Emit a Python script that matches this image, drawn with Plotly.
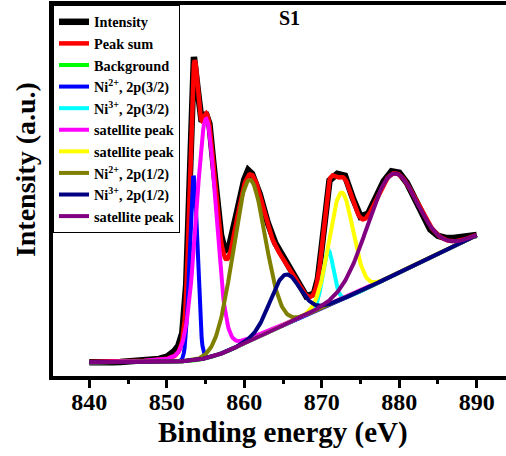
import numpy as np
import plotly.graph_objects as go

energy = [840, 841, 842, 843, 844, 845, 846, 847, 848, 849, 850, 850.5, 851, 851.5,
          852, 852.5, 853, 853.5, 854, 854.5, 855, 855.5, 856, 856.5, 857, 857.5,
          858, 859, 860, 860.5, 861, 862, 863, 864, 865, 866, 867, 868, 869, 869.5,
          870, 870.5, 871, 872, 873, 874, 875, 876, 877, 878, 879, 880, 881, 882,
          883, 884, 885, 886, 887, 888, 889, 890]
intensity = [3.7, 3.6, 3.8, 3.7, 3.8, 3.9, 4.0, 4.1, 4.3, 4.6, 5.2, 5.8, 6.8, 8.2,
             11.6, 24.5, 58.0, 86.0, 77.0, 68.5, 71.0, 68.0, 57.5, 46.0, 38.0, 33.8,
             34.5, 43.6, 53.0, 55.5, 54.5, 49.0, 41.5, 35.8, 32.0, 28.6, 24.8, 21.5, 22.2, 26.2,
             34.8, 45.7, 52.7, 54.5, 54.0, 48.0, 43.0, 43.8, 48.0, 52.5, 55.2, 54.8, 52.0, 48.0,
             43.5, 39.5, 37.8, 37.2, 37.2, 37.4, 37.7, 38.0]

# ---- background (read at control energies) ----
bg_energy = [840, 845, 850, 852, 854, 856, 858, 860, 862, 865, 870, 875, 880, 885, 890]
bg_value = [3.71, 3.71, 3.84, 3.98, 4.34, 5.29, 6.81, 8.86, 10.78, 13.63, 18.41, 22.86, 27.96, 33.05, 37.94]

# ---- fitted components: name, colour, centre (eV), height, FWHM (eV), Lorentzian fraction ----
comp_names = ["Ni<sup>2+</sup>, 2p(3/2)", "Ni<sup>3+</sup>, 2p(3/2)", "satellite peak",
              "satellite peak", "Ni<sup>2+</sup>, 2p(1/2)", "Ni<sup>3+</sup>, 2p(1/2)", "satellite peak"]
comp_colors = ["#0000FF", "#00FFFF", "#FF00FF", "#FFFF00", "#808000", "#000080", "#800080"]
comp_center = [853.45, 870.81, 855.06, 872.49, 860.61, 865.23, 879.07]
comp_height = [49.5, 14.75, 64.5, 28.8, 43.4, 13.4, 27.4]
comp_fwhm = [1.18, 1.65, 3.0, 3.6, 4.87, 4.47, 7.54]
comp_lorentz = [0.0, 0.0, 0.15, 0.0, 0.0, 0.0, 0.0]

x_ticks = [840, 850, 860, 870, 880, 890]

# ---- build fitted curves ----
grid = np.round(np.arange(840, 890.001, 0.1), 2)
bg_grid = np.interp(grid, bg_energy, bg_value)
comps = []
for c, h, w, eta in zip(comp_center, comp_height, comp_fwhm, comp_lorentz):
    sig = w / 2.3548
    gauss = np.exp(-(grid - c) ** 2 / (2 * sig ** 2))
    lor = 1.0 / (1.0 + ((grid - c) / (w / 2)) ** 2)
    comps.append(h * (eta * lor + (1 - eta) * gauss))
peak_sum = bg_grid + np.sum(comps, axis=0)

serif = "Liberation Serif, Times New Roman, serif"
fig = go.Figure()
fig.add_trace(go.Scatter(x=energy, y=intensity, mode="lines", name="Intensity",
                         line=dict(color="black", width=6.5)))
fig.add_trace(go.Scatter(x=grid, y=peak_sum, mode="lines", name="Peak sum",
                         line=dict(color="#FF0000", width=4.5)))
fig.add_trace(go.Scatter(x=bg_energy, y=bg_value, mode="lines", name="Background",
                         line=dict(color="#00FF00", width=4)))
for name, col, comp in zip(comp_names, comp_colors, comps):
    fig.add_trace(go.Scatter(x=grid, y=bg_grid + comp, mode="lines", name=name,
                             line=dict(color=col, width=4)))

fig.update_layout(
    width=506, height=456,
    margin=dict(l=53, r=0, t=5, b=80),
    paper_bgcolor="white", plot_bgcolor="white",
    showlegend=True,
    legend=dict(x=0, y=1, xanchor="left", yanchor="top", bgcolor="white",
                bordercolor="black", borderwidth=1, tracegroupgap=0,
                font=dict(family=serif, size=14.3, color="black", weight="bold")),
    xaxis=dict(range=[835.31, 893.78], tickmode="linear", tick0=840, dtick=10,
               showline=True, linecolor="black", linewidth=3.5, mirror=True,
               ticks="outside", ticklen=8, tickwidth=3, tickcolor="black",
               ticklabelstandoff=-7,
               minor=dict(dtick=5, tick0=840, ticks="outside", ticklen=4, tickwidth=3, tickcolor="black"),
               showgrid=False, zeroline=False,
               tickfont=dict(family=serif, size=24, color="black", weight="bold")),
    yaxis=dict(range=[0, 100], showline=True, linecolor="black", linewidth=4,
               showticklabels=False, ticks="", showgrid=False, zeroline=False),
    annotations=[
        dict(text="S1", xref="paper", yref="paper", x=0.523, y=0.965, showarrow=False,
             xanchor="center", yanchor="middle",
             font=dict(family=serif, size=20, color="black", weight="bold")),
        dict(text="Intensity (a.u.)", xref="paper", yref="paper", x=-0.0618, y=0.555,
             textangle=-90, showarrow=False, xanchor="center", yanchor="middle",
             font=dict(family=serif, size=28, color="black", weight="bold")),
        dict(text="Binding energy (eV)", xref="paper", yref="paper", x=0.5077, y=-0.1517,
             showarrow=False, xanchor="center", yanchor="middle",
             font=dict(family=serif, size=29, color="black", weight="bold")),
    ],
)
fig.write_html("out.html")
